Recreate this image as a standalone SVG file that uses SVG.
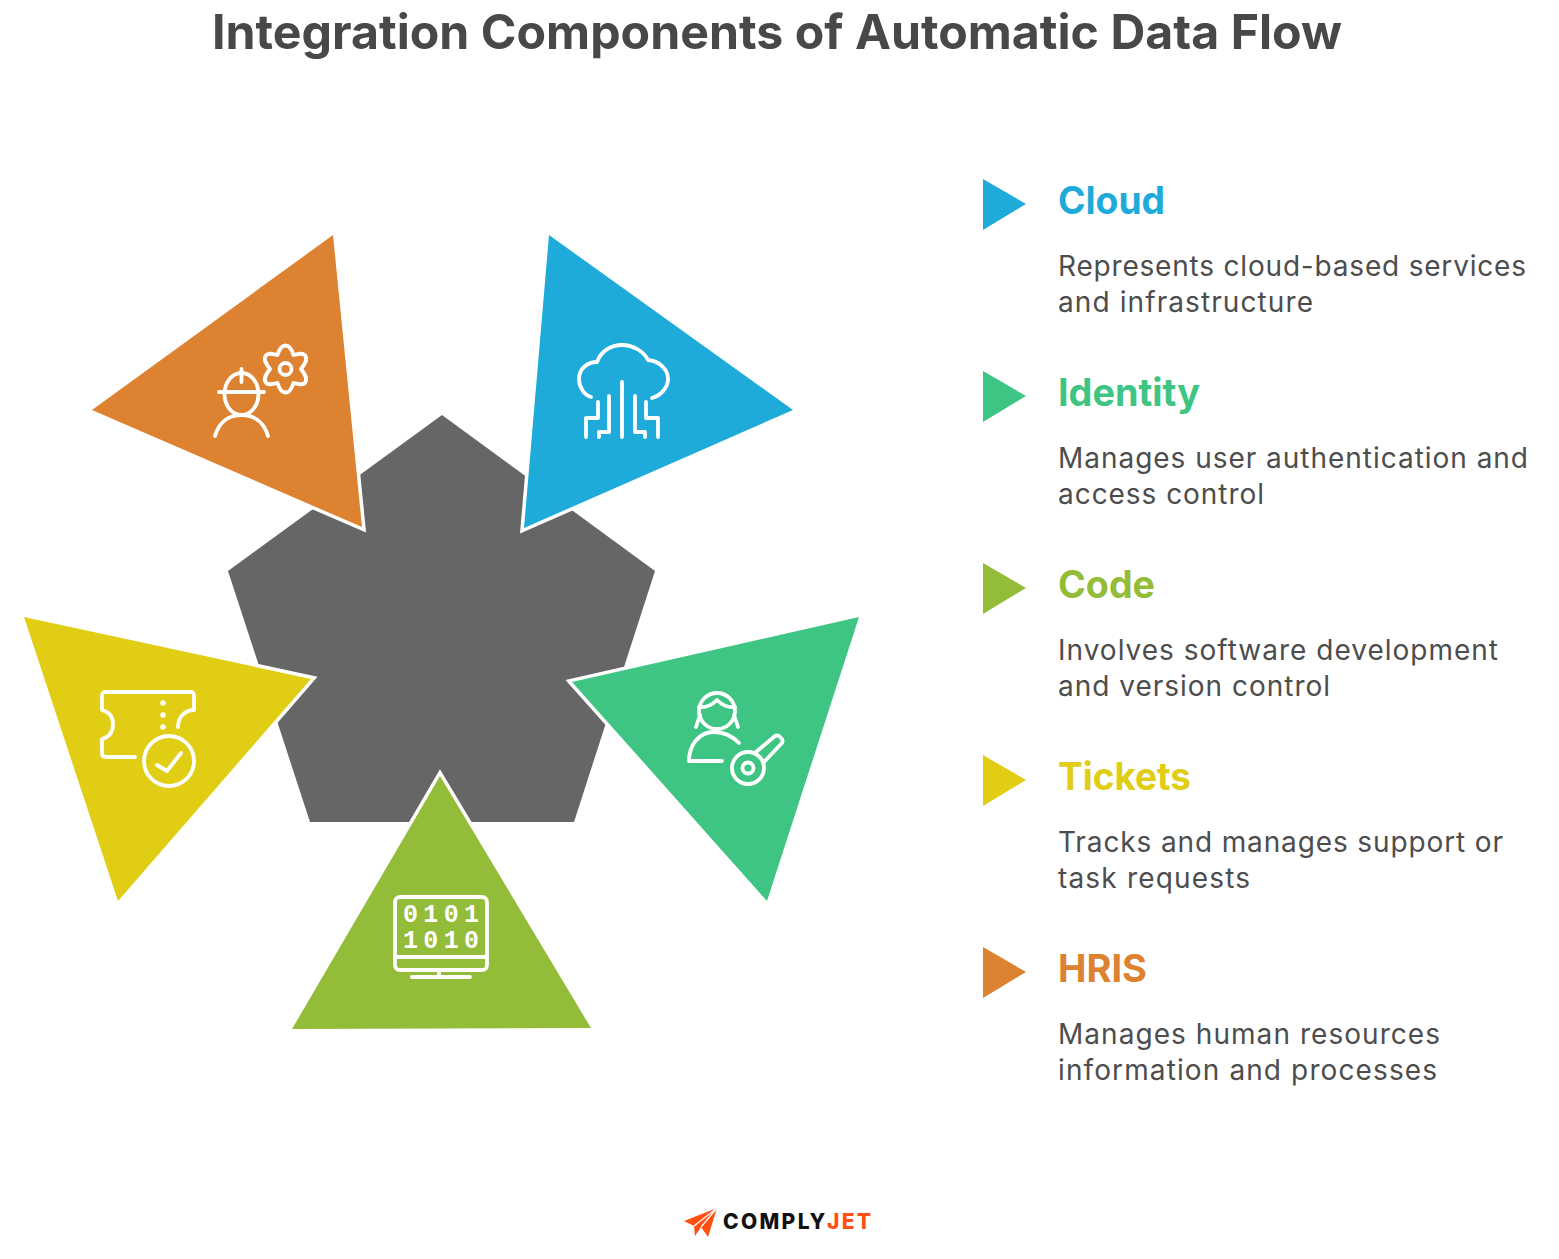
<svg xmlns="http://www.w3.org/2000/svg" width="1559" height="1259" viewBox="0 0 1559 1259">
<style>
.ic{fill:none;stroke:#fff;stroke-width:3.8;stroke-linecap:round;stroke-linejoin:round}
.tri{stroke:#fff;stroke-width:7;stroke-linejoin:miter;paint-order:stroke}
text{font-family:"Inter","Liberation Sans",sans-serif}
.h{font-size:38px;font-weight:700}
.b{font-size:28px;fill:#4d4d4d}
.d{font-family:"Liberation Mono",monospace;font-size:25px;font-weight:700;fill:#fff}
</style>
<rect width="1559" height="1259" fill="#fff"/>
<g id="title"><text x="212" y="49" font-size="48" font-weight="700" fill="#484848" textLength="1130" lengthAdjust="spacingAndGlyphs">Integration Components of Automatic Data Flow</text></g>
<g id="hub"><polygon points="442,415 655,571 574,822 310,822 228,571" fill="#666"/></g>
<g id="node-hris"><polygon class="tri" fill="#dd8230" points="333,235 92,410 362,527"/>
<g class="ic"><ellipse cx="241.500" cy="394" rx="17" ry="21"/><path d="M219 392H264M241.500 369V382M215 436C219 422 229 415 241.500 415C254 415 264 422 268 436"/><circle cx="285.500" cy="369" r="6"/><path d="M277.500 355C279 350 281 345.500 285.500 345.500C290 345.500 292 350 293.500 355C298 354 303 352 305.500 356C308 360 304 365 301 369C304 373 308 378 305.500 382C303 386 298 384 293.500 383C292 388 290 392.500 285.500 392.500C281 392.500 279 388 277.500 383C273 384 268 386 265.500 382C263 378 267 373 270 369C267 365 263 360 265.500 356C268 352 273 354 277.500 355Z"/></g></g>
<g id="node-cloud"><polygon class="tri" fill="#1eabda" points="549,235 793,410 524,528"/>
<g class="ic"><path d="M591 397C584 395 579 387 579 379C579 369 587 362 597 362C601 351 611 345 622 345C634 345 644 352 648 360C659 361 668 369 668 379C668 388 660 396 652 398M622 382V437"/><path d="M598 402V418H586V437M609 396V432H599V437M635 396V432H645V437M646 402V418H658V437"/></g></g>
<g id="node-identity"><polygon class="tri" fill="#3ec583" points="859,617 767,901 572,682"/>
<g class="ic"><circle cx="717" cy="711" r="18"/><path d="M699 707C708 708 713 704 717 700C721 704 726 708 735 707M700 715L696 727M734 715L738 727M739 743C731 735 724 732 714 732C699 732 689 745 689 761H722"/><circle cx="748" cy="768" r="16"/><circle cx="748" cy="768" r="5.500"/><path d="M756 752L775 736Q777 735 779 736L782 739Q783 741 782 743L764 762"/></g></g>
<g id="node-code"><polygon class="tri" fill="#93bc39" points="292,1029 591,1028 440,776"/>
<g class="ic"><rect x="395" y="897" width="92" height="73" rx="5"/><path d="M395 957H487M439 970V977M412 977H470"/></g>
<text class="d" x="403" y="922" textLength="76">0101</text><text class="d" x="403" y="948" textLength="76">1010</text></g>
<g id="node-tickets"><polygon class="tri" fill="#e0cd14" points="24,617 118,901 311,679"/>
<g class="ic"><path d="M135 757H106C103 757 102 755 102 753V739C110 737 113 731 113 724C113 718 110 712 102 710V696C102 693 103 692 106 692H190C193 692 194 693 194 696V710C186 710 178 716 178 727"/><circle cx="169" cy="761" r="25"/><path d="M157 765L167 771L181 753"/><path d="M163 703V703.100M163 715V715.100M163 727V727.100" stroke-width="5.500"/></g></g>
<g id="item-cloud"><polygon points="983,179 1026,204 983,230" fill="#1eabda"/><text class="h" x="1058" y="214" fill="#1eabda" textLength="107" lengthAdjust="spacingAndGlyphs">Cloud</text><text class="b" x="1058" y="276" textLength="468">Represents cloud-based services</text><text class="b" x="1058" y="312" textLength="255">and infrastructure</text></g>
<g id="item-identity"><polygon points="983,371 1026,396 983,422" fill="#3ec583"/><text class="h" x="1058" y="406" fill="#3ec583" textLength="142" lengthAdjust="spacingAndGlyphs">Identity</text><text class="b" x="1058" y="468" textLength="470">Manages user authentication and</text><text class="b" x="1058" y="504" textLength="206">access control</text></g>
<g id="item-code"><polygon points="983,563 1026,588 983,614" fill="#93bc39"/><text class="h" x="1058" y="598" fill="#93bc39" textLength="97" lengthAdjust="spacingAndGlyphs">Code</text><text class="b" x="1058" y="660" textLength="440">Involves software development</text><text class="b" x="1058" y="696" textLength="272">and version control</text></g>
<g id="item-tickets"><polygon points="983,755 1026,780 983,806" fill="#e0cd14"/><text class="h" x="1058" y="790" fill="#e0cd14" textLength="133" lengthAdjust="spacingAndGlyphs">Tickets</text><text class="b" x="1058" y="852" textLength="445">Tracks and manages support or</text><text class="b" x="1058" y="888" textLength="192">task requests</text></g>
<g id="item-hris"><polygon points="983,947 1026,972 983,998" fill="#dd8230"/><text class="h" x="1058" y="982" fill="#dd8230" textLength="89" lengthAdjust="spacingAndGlyphs">HRIS</text><text class="b" x="1058" y="1044" textLength="382">Manages human resources</text><text class="b" x="1058" y="1080" textLength="379">information and processes</text></g>
<g id="logo"><path d="M684 1221L717 1208L708 1237L701 1227L695 1236L694 1226Z" fill="#ff4f12"/><path d="M694 1226L717 1208L701 1227" fill="none" stroke="#fff" stroke-width="1.200"/>
<text x="723" y="1229" font-size="21" font-weight="800" fill="#111" textLength="148"><tspan>COMPLY</tspan><tspan fill="#ff4f12">JET</tspan></text></g>
</svg>
